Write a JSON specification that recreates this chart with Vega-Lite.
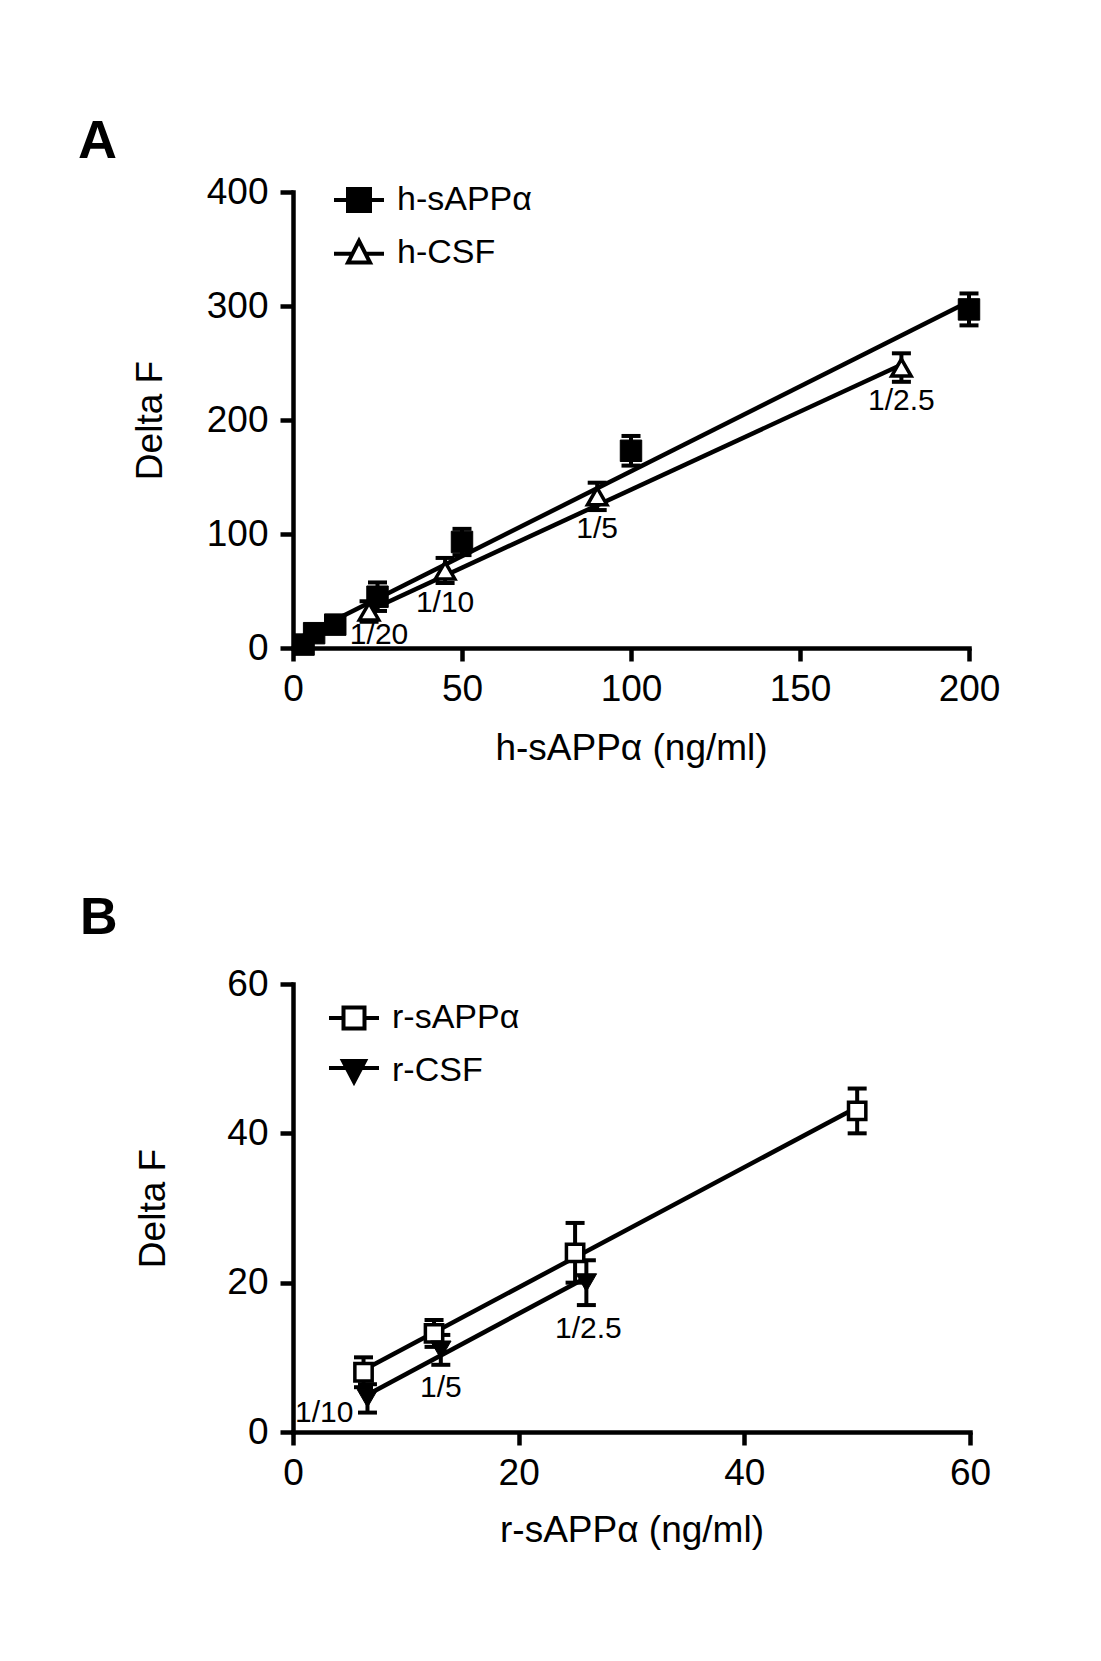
{
  "$schema": "https://vega.github.io/schema/vega-lite/v6.json",
  "background": "white",
  "padding": {"left": 78, "top": 115, "right": 10, "bottom": 10},
  "datasets": {
    "ptsA": [
      {"series": "h-sAPPα", "x": 3.125, "y": 3, "err": 2},
      {"series": "h-sAPPα", "x": 6.25, "y": 13, "err": 3},
      {"series": "h-sAPPα", "x": 12.5, "y": 20.5, "err": 3},
      {"series": "h-sAPPα", "x": 25, "y": 45, "err": 12.5},
      {"series": "h-sAPPα", "x": 50, "y": 93, "err": 11.5},
      {"series": "h-sAPPα", "x": 100, "y": 173, "err": 13},
      {"series": "h-sAPPα", "x": 200, "y": 297, "err": 14},
      {"series": "h-CSF", "x": 22.5, "y": 32, "err": 9, "label": "1/20"},
      {"series": "h-CSF", "x": 45, "y": 68, "err": 11, "label": "1/10"},
      {"series": "h-CSF", "x": 90, "y": 133, "err": 12, "label": "1/5"},
      {"series": "h-CSF", "x": 180, "y": 246, "err": 12.5, "label": "1/2.5"}
    ],
    "fitA": [
      {"series": "h-sAPPα", "x": 3.125, "y": 10.7},
      {"series": "h-sAPPα", "x": 200, "y": 304},
      {"series": "h-CSF", "x": 22.5, "y": 32.7},
      {"series": "h-CSF", "x": 180, "y": 248.5}
    ],
    "ptsB": [
      {"series": "r-sAPPα", "x": 6.25, "y": 8, "err": 2},
      {"series": "r-sAPPα", "x": 12.5, "y": 13.2, "err": 1.8},
      {"series": "r-sAPPα", "x": 25, "y": 24, "err": 4},
      {"series": "r-sAPPα", "x": 50, "y": 43, "err": 3},
      {"series": "r-CSF", "x": 6.6, "y": 4.5, "err": 1.9, "label": "1/10"},
      {"series": "r-CSF", "x": 13.1, "y": 11, "err": 2, "label": "1/5"},
      {"series": "r-CSF", "x": 26, "y": 20, "err": 3, "label": "1/2.5"}
    ],
    "fitB": [
      {"series": "r-sAPPα", "x": 6.25, "y": 8.3},
      {"series": "r-sAPPα", "x": 50, "y": 43.5},
      {"series": "r-CSF", "x": 6.6, "y": 5.0},
      {"series": "r-CSF", "x": 26, "y": 20.7}
    ]
  },
  "spacing": 126,
  "resolve": {
    "scale": {"x": "independent", "y": "independent", "shape": "independent", "fill": "independent", "stroke": "independent"},
    "legend": {"shape": "independent", "fill": "independent", "stroke": "independent"}
  },
  "vconcat": [
    {
      "width": 676,
      "height": 456,
      "title": {"text": "A", "anchor": "start", "frame": "group", "dx": -215, "offset": -39, "baseline": "alphabetic", "fontSize": 54, "fontWeight": "bold", "font": "Liberation Sans", "color": "black"},
      "data": {"name": "ptsA"},
      "encoding": {
        "x": {"field": "x", "type": "quantitative", "scale": {"domain": [0, 200], "nice": false, "zero": false},
              "axis": {"values": [0, 50, 100, 150, 200], "title": "h-sAPPα (ng/ml)", "titlePadding": 23}},
        "y": {"field": "y", "type": "quantitative", "scale": {"domain": [0, 400], "nice": false, "zero": false},
              "axis": {"values": [0, 100, 200, 300, 400], "title": "Delta F", "titlePadding": 37, "labelPadding": 12}}
      },
      "layer": [
        {
          "mark": {"type": "point", "filled": true, "opacity": 0, "size": 2500, "strokeWidth": 4},
          "encoding": {
            "shape": {"field": "series", "type": "nominal",
              "scale": {"domain": ["h-sAPPα", "h-CSF"], "range": ["M-1,0H1M-0.44,-0.44H0.44V0.44H-0.44Z", "M-1,0.05H-0.22M0.22,0.05H1M0,-0.46L0.44,0.4L-0.44,0.4Z"]},
              "legend": {"title": null, "orient": "none", "legendX": 39, "legendY": -19, "symbolSize": 2500, "symbolStrokeWidth": 4, "symbolOpacity": 1, "labelFontSize": 34, "labelFont": "Liberation Sans", "labelColor": "black", "rowPadding": 6.5, "labelOffset": 11}},
            "fill": {"field": "series", "type": "nominal",
              "scale": {"domain": ["h-sAPPα", "h-CSF"], "range": ["black", "white"]},
              "legend": {"title": null, "orient": "none", "legendX": 39, "legendY": -19, "symbolSize": 2500, "symbolStrokeWidth": 4, "symbolOpacity": 1, "labelFontSize": 34, "labelFont": "Liberation Sans", "labelColor": "black", "rowPadding": 6.5, "labelOffset": 11}},
            "stroke": {"field": "series", "type": "nominal",
              "scale": {"domain": ["h-sAPPα", "h-CSF"], "range": ["black", "black"]},
              "legend": {"title": null, "orient": "none", "legendX": 39, "legendY": -19, "symbolSize": 2500, "symbolStrokeWidth": 4, "symbolOpacity": 1, "labelFontSize": 34, "labelFont": "Liberation Sans", "labelColor": "black", "rowPadding": 6.5, "labelOffset": 11}}
          }
        },
        {
          "data": {"name": "fitA"},
          "mark": {"type": "line", "color": "black", "strokeWidth": 4.5},
          "encoding": {"detail": {"field": "series", "type": "nominal"}}
        },
        {
          "mark": {"type": "errorbar", "color": "black", "opacity": 1, "ticks": {"size": 19, "thickness": 4, "color": "black", "opacity": 1}, "rule": {"strokeWidth": 4, "color": "black", "opacity": 1}},
          "encoding": {"yError": {"field": "err"}, "detail": {"field": "series", "type": "nominal"}}
        },
        {
          "transform": [{"filter": "datum.series === 'h-sAPPα'"}],
          "mark": {"type": "point", "shape": "square", "filled": true, "fill": "black", "stroke": "black", "strokeWidth": 1, "size": 460, "opacity": 1}
        },
        {
          "transform": [{"filter": "datum.series === 'h-CSF'"}],
          "mark": {"type": "point", "shape": "triangle-up", "filled": true, "fill": "white", "stroke": "black", "strokeWidth": 3.5, "size": 380, "opacity": 1}
        },
        {
          "transform": [{"filter": "isValid(datum.label) && datum.label !== '1/20'"}],
          "mark": {"type": "text", "dy": 33, "fontSize": 30, "font": "Liberation Sans", "color": "black"},
          "encoding": {"text": {"field": "label", "type": "nominal"}}
        },
        {
          "transform": [{"filter": "datum.label === '1/20'"}],
          "mark": {"type": "text", "dx": 10, "dy": 23, "fontSize": 30, "font": "Liberation Sans", "color": "black"},
          "encoding": {"text": {"field": "label", "type": "nominal"}}
        }
      ]
    },
    {
      "width": 677,
      "height": 448,
      "title": {"text": "B", "anchor": "start", "frame": "group", "dx": -213, "offset": -21, "baseline": "alphabetic", "fontSize": 52, "fontWeight": "bold", "font": "Liberation Sans", "color": "black"},
      "data": {"name": "ptsB"},
      "encoding": {
        "x": {"field": "x", "type": "quantitative", "scale": {"domain": [0, 60], "nice": false, "zero": false},
              "axis": {"values": [0, 20, 40, 60], "title": "r-sAPPα (ng/ml)", "titlePadding": 21}},
        "y": {"field": "y", "type": "quantitative", "scale": {"domain": [0, 60], "nice": false, "zero": false},
              "axis": {"values": [0, 20, 40, 60], "title": "Delta F", "titlePadding": 54, "labelPadding": 12}}
      },
      "layer": [
        {
          "mark": {"type": "point", "filled": true, "opacity": 0, "size": 2500, "strokeWidth": 4},
          "encoding": {
            "shape": {"field": "series", "type": "nominal",
              "scale": {"domain": ["r-sAPPα", "r-CSF"], "range": ["M-1,0H-0.42M0.42,0H1M-0.42,-0.42H0.42V0.42H-0.42Z", "M-1,-0.1H1M-0.44,-0.38L0.44,-0.38L0,0.46Z"]},
              "legend": {"title": null, "orient": "none", "legendX": 34, "legendY": 7, "symbolSize": 2500, "symbolStrokeWidth": 4, "symbolOpacity": 1, "labelFontSize": 34, "labelFont": "Liberation Sans", "labelColor": "black", "rowPadding": 6.5, "labelOffset": 11}},
            "fill": {"field": "series", "type": "nominal",
              "scale": {"domain": ["r-sAPPα", "r-CSF"], "range": ["white", "black"]},
              "legend": {"title": null, "orient": "none", "legendX": 34, "legendY": 7, "symbolSize": 2500, "symbolStrokeWidth": 4, "symbolOpacity": 1, "labelFontSize": 34, "labelFont": "Liberation Sans", "labelColor": "black", "rowPadding": 6.5, "labelOffset": 11}},
            "stroke": {"field": "series", "type": "nominal",
              "scale": {"domain": ["r-sAPPα", "r-CSF"], "range": ["black", "black"]},
              "legend": {"title": null, "orient": "none", "legendX": 34, "legendY": 7, "symbolSize": 2500, "symbolStrokeWidth": 4, "symbolOpacity": 1, "labelFontSize": 34, "labelFont": "Liberation Sans", "labelColor": "black", "rowPadding": 6.5, "labelOffset": 11}}
          }
        },
        {
          "data": {"name": "fitB"},
          "mark": {"type": "line", "color": "black", "strokeWidth": 4.5},
          "encoding": {"detail": {"field": "series", "type": "nominal"}}
        },
        {
          "mark": {"type": "errorbar", "color": "black", "opacity": 1, "ticks": {"size": 19, "thickness": 4, "color": "black", "opacity": 1}, "rule": {"strokeWidth": 4, "color": "black", "opacity": 1}},
          "encoding": {"yError": {"field": "err"}, "detail": {"field": "series", "type": "nominal"}}
        },
        {
          "transform": [{"filter": "datum.series === 'r-sAPPα'"}],
          "mark": {"type": "point", "shape": "square", "filled": true, "fill": "white", "stroke": "black", "strokeWidth": 3.5, "size": 300, "opacity": 1}
        },
        {
          "transform": [{"filter": "datum.series === 'r-CSF'"}],
          "mark": {"type": "point", "shape": "triangle-down", "filled": true, "fill": "black", "stroke": "black", "strokeWidth": 1, "size": 420, "opacity": 1}
        },
        {
          "transform": [{"filter": "datum.label === '1/10'"}],
          "mark": {"type": "text", "align": "right", "dx": -14, "dy": 15, "fontSize": 30, "font": "Liberation Sans", "color": "black"},
          "encoding": {"text": {"field": "label", "type": "nominal"}}
        },
        {
          "transform": [{"filter": "datum.label === '1/5'"}],
          "mark": {"type": "text", "dy": 38, "fontSize": 30, "font": "Liberation Sans", "color": "black"},
          "encoding": {"text": {"field": "label", "type": "nominal"}}
        },
        {
          "transform": [{"filter": "datum.label === '1/2.5'"}],
          "mark": {"type": "text", "dx": 2, "dy": 46, "fontSize": 30, "font": "Liberation Sans", "color": "black"},
          "encoding": {"text": {"field": "label", "type": "nominal"}}
        }
      ]
    }
  ],
  "config": {
    "font": "Liberation Sans",
    "view": {"stroke": null},
    "axis": {
      "grid": false,
      "domainColor": "black",
      "domainWidth": 4.5,
      "domainCap": "square",
      "tickColor": "black",
      "tickWidth": 4.5,
      "tickSize": 13,
      "labelFont": "Liberation Sans",
      "labelFontSize": 37,
      "labelColor": "black",
      "labelPadding": 10,
      "labelFlush": false,
      "labelOverlap": false,
      "titleFont": "Liberation Sans",
      "titleFontSize": 37,
      "titleFontWeight": "normal",
      "titleColor": "black"
    }
  }
}
